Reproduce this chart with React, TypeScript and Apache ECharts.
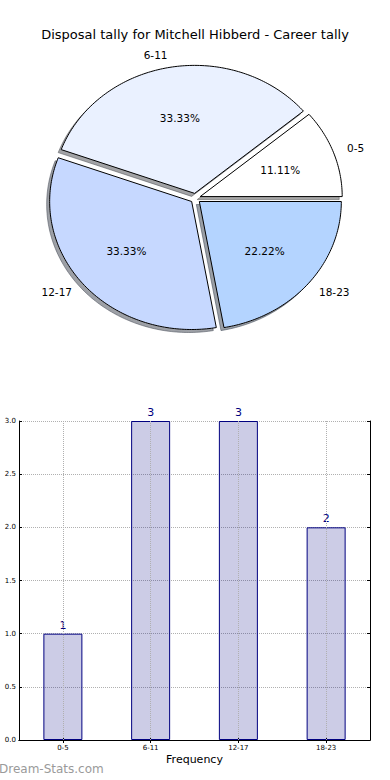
import React, { useEffect, useRef } from 'react';
import * as echarts from 'echarts';

const titleText = 'Disposal tally for Mitchell Hibberd - Career tally';
const categories = ['0-5', '6-11', '12-17', '18-23'];
const counts = [1, 3, 3, 2];
const sliceColors = ['#ffffff', '#eaf1ff', '#c6d8ff', '#b4d4ff'];
const axisName = 'Frequency';
const watermark = 'Dream-Stats.com';

const FONT = 'DejaVu Sans';
// pie geometry (matplotlib-like elliptical pie)
const CX = 195.5;
const CY = 198.3;
const RX = 142;
const RY = 128;
const EXPLODE = 5;
const SHADOW_DX = -3;
const SHADOW_DY = 3;

const total = counts.reduce((a, b) => a + b, 0);
const starts: number[] = [];
{
  let acc = 0;
  counts.forEach((v) => {
    starts.push(acc);
    acc += v;
  });
}

function wedge(i: number, value: number) {
  const a0 = (starts[i] / total) * 360;
  const a1 = ((starts[i] + value) / total) * 360;
  const mid = (((a0 + a1) / 2) * Math.PI) / 180;
  const ox = CX + EXPLODE * Math.cos(mid);
  const oy = CY - EXPLODE * Math.sin(mid);
  const pts: number[][] = [[ox, oy]];
  const n = Math.max(4, Math.ceil(a1 - a0));
  for (let k = 0; k <= n; k++) {
    const a = ((a0 + ((a1 - a0) * k) / n) * Math.PI) / 180;
    pts.push([ox + RX * Math.cos(a), oy - RY * Math.sin(a)]);
  }
  return { pts, ox, oy, mid };
}

function shade(hex: string) {
  const r = parseInt(hex.slice(1, 3), 16);
  const g = parseInt(hex.slice(3, 5), 16);
  const b = parseInt(hex.slice(5, 7), 16);
  return `rgba(${Math.round(r * 0.3)},${Math.round(g * 0.3)},${Math.round(b * 0.3)},0.5)`;
}

export default function App() {
  const ref = useRef<HTMLDivElement>(null);
  useEffect(() => {
    document.body.style.margin = '0';
    if (!ref.current) return;
    const chart = echarts.init(ref.current, undefined, { renderer: 'svg' });
    const option: any = {
      animation: false,
      backgroundColor: '#ffffff',
      title: {
        text: titleText,
        left: 'center',
        top: 23,
        textStyle: { fontSize: 13, fontWeight: 'normal', color: '#000', fontFamily: FONT },
      },
      graphic: [
        {
          type: 'text',
          left: -1,
          top: 763,
          style: { text: watermark, fill: '#9a9a9a', fontSize: 12, fontFamily: FONT },
        },
      ],
      grid: { left: 19, right: 20, top: 421, bottom: 40 },
      xAxis: [
        {
          type: 'category',
          data: categories,
          position: 'bottom',
          name: axisName,
          nameLocation: 'middle',
          nameGap: 14,
          nameTextStyle: { fontSize: 11, color: '#000', fontFamily: FONT },
          axisLine: { show: true, lineStyle: { color: '#000', width: 1 } },
          axisTick: { show: true, inside: true, alignWithLabel: true, length: 3, lineStyle: { color: '#000' } },
          axisLabel: { fontSize: 7, color: '#000', margin: 4, fontFamily: FONT },
          splitLine: { show: false },
        },
        {
          type: 'category',
          data: categories,
          position: 'top',
          axisLine: { show: true, lineStyle: { color: '#000', width: 1 } },
          axisTick: { show: true, inside: true, alignWithLabel: true, length: 3, lineStyle: { color: '#000' } },
          axisLabel: { show: false },
          splitLine: { show: false },
        },
      ],
      yAxis: [
        {
          type: 'value',
          min: 0,
          max: 3,
          interval: 0.5,
          axisLine: { show: true, lineStyle: { color: '#000', width: 1 } },
          axisTick: { show: true, inside: true, length: 3, lineStyle: { color: '#000' } },
          axisLabel: {
            fontSize: 7,
            color: '#000',
            margin: 3,
            fontFamily: FONT,
            formatter: (v: number) => v.toFixed(1),
          },
          splitLine: { show: true, lineStyle: { type: 'dotted', color: '#b0b0b0', width: 1 } },
        },
        {
          type: 'value',
          min: 0,
          max: 3,
          interval: 0.5,
          position: 'right',
          axisLine: { show: true, lineStyle: { color: '#000', width: 1 } },
          axisTick: { show: true, inside: true, length: 3, lineStyle: { color: '#000' } },
          axisLabel: { show: false },
          splitLine: { show: false },
        },
      ],
      series: [
        {
          type: 'custom',
          coordinateSystem: 'none',
          z: 1,
          silent: true,
          data: counts,
          renderItem: (params: any, api: any) => {
            const i = params.dataIndex;
            const w = wedge(i, api.value(0));
            const pts = w.pts.map((p) => [p[0] + SHADOW_DX, p[1] + SHADOW_DY]);
            const c = shade(sliceColors[i]);
            return {
              type: 'polygon',
              shape: { points: pts },
              style: { fill: c, stroke: c, lineWidth: 1 },
            };
          },
        },
        {
          type: 'custom',
          coordinateSystem: 'none',
          z: 2,
          silent: true,
          data: counts,
          renderItem: (params: any, api: any) => {
            const i = params.dataIndex;
            const v = api.value(0);
            const w = wedge(i, v);
            const lx = w.ox + 1.1 * RX * Math.cos(w.mid);
            const ly = w.oy - 1.1 * RY * Math.sin(w.mid);
            const px = w.ox + 0.6 * RX * Math.cos(w.mid);
            const py = w.oy - 0.6 * RY * Math.sin(w.mid);
            const align = Math.cos(w.mid) > 0 ? 'left' : 'right';
            return {
              type: 'group',
              children: [
                {
                  type: 'polygon',
                  shape: { points: w.pts },
                  style: { fill: sliceColors[i], stroke: '#000', lineWidth: 1, lineJoin: 'miter' },
                },
                {
                  type: 'text',
                  x: lx,
                  y: ly,
                  style: {
                    text: categories[i],
                    fill: '#000',
                    fontSize: 10.5,
                    fontFamily: FONT,
                    align,
                    textAlign: align,
                    verticalAlign: 'middle',
                    textVerticalAlign: 'middle',
                  },
                },
                {
                  type: 'text',
                  x: px,
                  y: py,
                  style: {
                    text: ((v / total) * 100).toFixed(2) + '%',
                    fill: '#000',
                    fontSize: 10.5,
                    fontFamily: FONT,
                    align: 'center',
                    textAlign: 'center',
                    verticalAlign: 'middle',
                    textVerticalAlign: 'middle',
                  },
                },
              ],
            };
          },
        },
        {
          type: 'line',
          data: [],
          z: 1,
          markLine: {
            silent: true,
            symbol: 'none',
            label: { show: false },
            lineStyle: { type: 'dotted', color: '#b0b0b0', width: 1 },
            data: categories.map((c) => ({ xAxis: c })),
          },
        },
        {
          type: 'bar',
          data: counts,
          barWidth: 39,
          z: 3,
          itemStyle: { color: 'rgba(0,0,128,0.2)', borderColor: '#000080', borderWidth: 1 },
          label: {
            show: true,
            position: 'top',
            distance: 3,
            color: '#000080',
            fontSize: 11,
            fontFamily: FONT,
          },
        },
      ],
    };
    chart.setOption(option);
    return () => chart.dispose();
  }, []);
  return <div ref={ref} style={{ width: 390, height: 780 }} />;
}
